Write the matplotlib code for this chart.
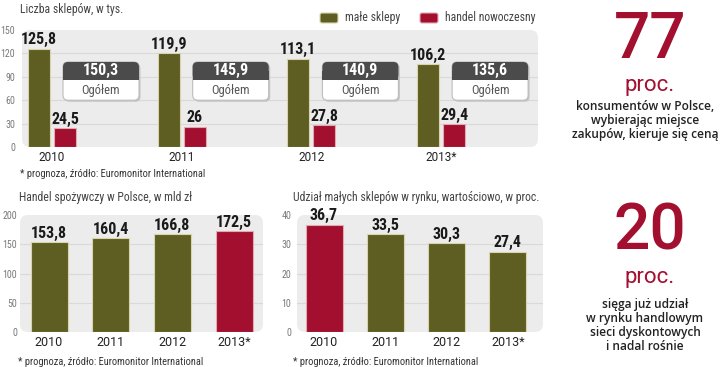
"""Liczba sklepów / handel spożywczy / udział małych sklepów - infografika."""

import matplotlib

matplotlib.use("Agg")
import matplotlib.pyplot as plt  # noqa: E402
from matplotlib.patches import FancyBboxPatch, Rectangle  # noqa: E402

YEARS = ["2010", "2011", "2012", "2013*"]
SMALL_SHOPS = [125.8, 119.9, 113.1, 106.2]
MODERN_TRADE = [24.5, 26, 27.8, 29.4]
TOTAL_SHOPS = [150.3, 145.9, 140.9, 135.6]
FOOD_RETAIL = [153.8, 160.4, 166.8, 172.5]
SMALL_SHARE = [36.7, 33.5, 30.3, 27.4]

TITLE_SHOPS = "Liczba sklepów, w tys."
TITLE_FOOD = "Handel spożywczy w Polsce, w mld zł"
TITLE_SHARE = "Udział małych sklepów w rynku, wartościowo, w proc."
LEGEND = ["małe sklepy", "handel nowoczesny"]
TOTAL_LABEL = "Ogółem"
FOOTNOTE = "* prognoza, źródło: Euromonitor International"
STAT_1 = ("77", "proc.", ["konsumentów w Polsce,", "wybierając miejsce", "zakupów, kieruje się ceną"])
STAT_2 = ("20", "proc.", ["sięga już udział", "w rynku handlowym", "sieci dyskontowych", "i nadal rośnie"])

OLIVE = "#5e5e22"
OLIVE_EDGE = "#d9d4ae"
RED = "#a30f2e"
RED_EDGE = "#e3a9b3"
BG = "#ececec"
GRID = "#d9d9d9"
DARK = "#4b4b4b"

NARROW = ["Liberation Sans Narrow", "Roboto Condensed", "DejaVu Sans Condensed", "Liberation Sans"]
SANS = ["Roboto", "DejaVu Sans"]
BODY = ["Open Sans", "Roboto", "DejaVu Sans"]

W, H = 720, 367
fig = plt.figure(figsize=(W / 100, H / 100), dpi=100)


def fmt(v):
    return str(int(v)) if v == int(v) else f"{v:.1f}".replace(".", ",")


def px_axes(left, top, right, bottom):
    return fig.add_axes([left / W, 1 - bottom / H, (right - left) / W, (bottom - top) / H])


def style_axes(ax, wpx, hpx, ymax, step, xlim, year_size, pad):
    ax.set_facecolor("none")
    ax.set_xlim(*xlim)
    ax.set_ylim(0, ymax)
    ticks = list(range(0, ymax + 1, step))
    ax.set_yticks(ticks)
    ax.set_yticklabels([str(t) for t in ticks], family=NARROW, fontsize=7.2, color="#7a7a7a")
    ax.set_xticks(range(len(YEARS)))
    ax.set_xticklabels(YEARS, family=SANS, fontsize=year_size, color="#222222")
    ax.tick_params(length=0, axis="y", pad=pad)
    ax.tick_params(length=0, axis="x", pad=3)
    for s in ax.spines.values():
        s.set_visible(False)
    r = 8
    ax.add_patch(FancyBboxPatch((0, 0), 1, 1, boxstyle=f"round,pad=0,rounding_size={r / wpx}",
                                mutation_aspect=wpx / hpx, transform=ax.transAxes,
                                fc=BG, ec="none", zorder=0, clip_on=False))
    for t in ticks[1:-1]:
        ax.axhline(t, color=GRID, lw=0.8, zorder=1)


def value_labels(ax, xs, vals, size):
    for x, v in zip(xs, vals):
        ax.annotate(fmt(v), (x, v), xytext=(0, 1), textcoords="offset points", ha="center",
                    va="bottom", family=NARROW, weight="bold", fontsize=size, color="#1a1a1a")


# --- top chart: number of shops ---
ax1 = px_axes(22, 30, 538, 147)
unit1 = 129.7
style_axes(ax1, 516, 117, 150, 30, ((22 - 52) / unit1, (538 - 52) / unit1), 8.5, 5)
xs = list(range(len(YEARS)))
bw = 22 / unit1
off = 13 / unit1
ax1.bar([x - off for x in xs], SMALL_SHOPS, bw, color=OLIVE, edgecolor=OLIVE_EDGE, lw=0.8, zorder=3)
ax1.bar([x + off for x in xs], MODERN_TRADE, bw, color=RED, edgecolor=RED_EDGE, lw=0.8, zorder=3)
value_labels(ax1, [x - off for x in xs], SMALL_SHOPS, 11.5)
value_labels(ax1, [x + off for x in xs], MODERN_TRADE, 11.5)

asp = unit1 / (117 / 150)
bx_w = 76 / unit1
rr = 5 / unit1
y0, ysplit, y1 = 60, 86, 109
for x, total in zip(xs, TOTAL_SHOPS):
    cx = x + 49 / unit1
    left = cx - bx_w / 2
    ax1.add_patch(FancyBboxPatch((left + 1.5 / unit1, y0 - 2), bx_w, y1 - y0,
                                 boxstyle=f"round,pad=0,rounding_size={rr}", mutation_aspect=asp,
                                 fc="#c4c4c4", ec="none", zorder=4))
    ax1.add_patch(FancyBboxPatch((left, y0), bx_w, y1 - y0,
                                 boxstyle=f"round,pad=0,rounding_size={rr}", mutation_aspect=asp,
                                 fc="white", ec="#bdbdbd", lw=0.8, zorder=5))
    ax1.add_patch(FancyBboxPatch((left, ysplit), bx_w, y1 - ysplit,
                                 boxstyle=f"round,pad=0,rounding_size={rr}", mutation_aspect=asp,
                                 fc=DARK, ec="none", zorder=6))
    ax1.add_patch(Rectangle((left, ysplit), bx_w, (y1 - ysplit) / 2, fc=DARK, ec="none", zorder=6))
    ax1.text(cx, (ysplit + y1) / 2, fmt(total), ha="center", va="center", family=NARROW,
             weight="bold", fontsize=11.5, color="white", zorder=7)
    ax1.text(cx, (y0 + ysplit) / 2, TOTAL_LABEL, ha="center", va="center", family=NARROW,
             fontsize=9, color="#555555", zorder=7)

fig.text(20 / W, 1 - 9 / H, TITLE_SHOPS, family=NARROW, fontsize=8.5, color="#444444", va="center")
fig.text(20 / W, 1 - 174 / H, FOOTNOTE, family=NARROW, fontsize=7.5, color="#333333", va="center")

# legend
for (lx, tx), label, col, ec in zip([(320, 345), (420, 445)], LEGEND, [OLIVE, RED], [OLIVE_EDGE, RED_EDGE]):
    fig.add_artist(FancyBboxPatch((lx / W, 1 - 23 / H), 18 / W, 10 / H,
                                  boxstyle=f"round,pad=0,rounding_size={2 / W}", mutation_aspect=W / H,
                                  transform=fig.transFigure, fc=col, ec=ec, lw=0.8))
    fig.text(tx / W, 1 - 17.5 / H, label, family=NARROW, fontsize=8.5, color="#444444", va="center")

# --- bottom left: food retail ---
ax2 = px_axes(20, 215, 263, 332)
unit2 = 61.7
style_axes(ax2, 243, 117, 200, 50, ((20 - 49) / unit2, (263 - 49) / unit2), 9, 2)
ax2.bar(xs, FOOD_RETAIL, 37 / unit2, color=[RED if y.endswith("*") else OLIVE for y in YEARS],
        edgecolor=[RED_EDGE if y.endswith("*") else OLIVE_EDGE for y in YEARS], lw=0.8, zorder=3)
value_labels(ax2, xs, FOOD_RETAIL, 11.5)
fig.text(19 / W, 1 - 197 / H, TITLE_FOOD, family=NARROW, fontsize=8.5, color="#444444", va="center")
fig.text(18 / W, 1 - 362 / H, FOOTNOTE, family=NARROW, fontsize=7.5, color="#333333", va="center")

# --- bottom right: small shops share ---
ax3 = px_axes(297, 215, 543, 332)
unit3 = 61.3
style_axes(ax3, 246, 117, 40, 10, ((297 - 324) / unit3, (543 - 324) / unit3), 9, 4)
ax3.bar(xs, SMALL_SHARE, 37 / unit3, color=[RED if y == "2010" else OLIVE for y in YEARS],
        edgecolor=[RED_EDGE if y == "2010" else OLIVE_EDGE for y in YEARS], lw=0.8, zorder=3)
value_labels(ax3, xs, SMALL_SHARE, 11.5)
fig.text(293 / W, 1 - 197 / H, TITLE_SHARE, family=NARROW, fontsize=8.5, color="#444444", va="center")
fig.text(293 / W, 1 - 362 / H, FOOTNOTE, family=NARROW, fontsize=7.5, color="#333333", va="center")


# --- right column statistics ---
def stat_block(stat, num_base, proc_base, line_base):
    num, unit, lines = stat
    fig.text(650 / W, 1 - num_base / H, num, family=SANS, weight="medium", fontsize=46,
             color=RED, ha="center", va="baseline")
    fig.text(650 / W, 1 - proc_base / H, unit, family=SANS, fontsize=16, color=RED,
             ha="center", va="baseline")
    for i, line in enumerate(lines):
        fig.text(645 / W, 1 - (line_base + 14 * i) / H, line, family=BODY, weight="semibold",
                 fontsize=8.6, color="#222222", ha="center", va="baseline")


stat_block(STAT_1, 58, 91, 110)
stat_block(STAT_2, 250, 283, 308)

fig.savefig("out.png", dpi=100)
